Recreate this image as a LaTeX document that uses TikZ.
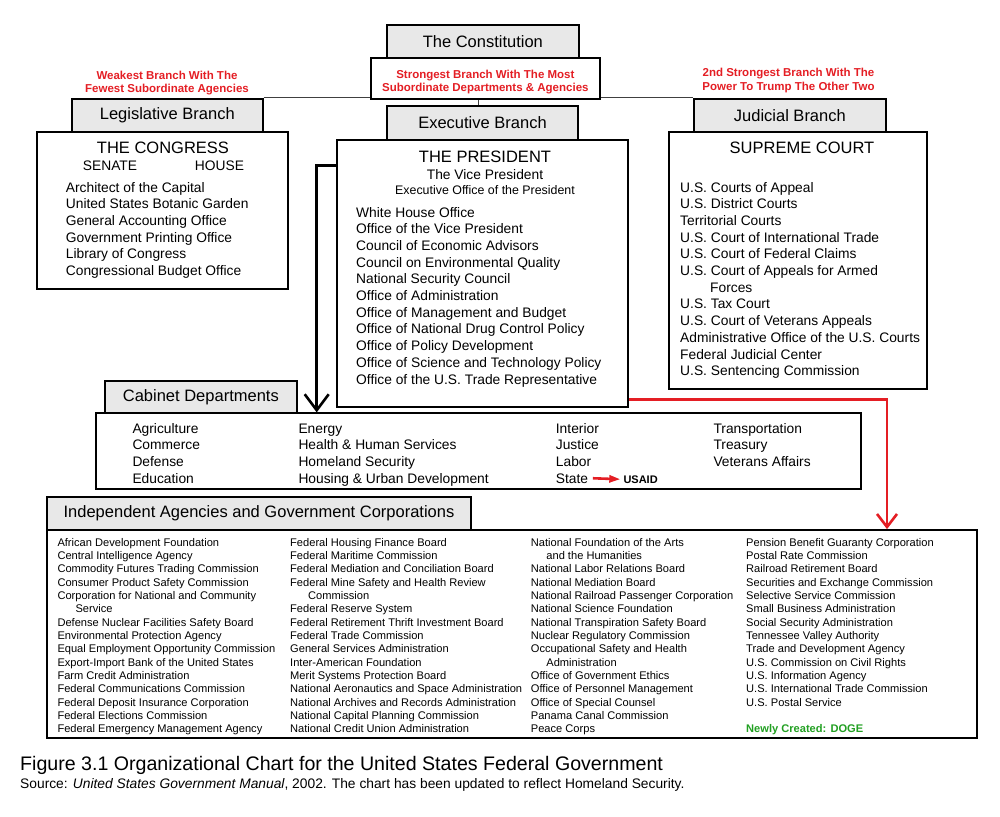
\documentclass[tikz,border=0pt]{standalone}
\usepackage{fontspec}
\setmainfont{Liberation Sans}
\usepackage{tikz}
\usetikzlibrary{arrows.meta}
\definecolor{tabgray}{RGB}{232, 232, 232}
\definecolor{notered}{RGB}{228, 30, 36}
\definecolor{dogegreen}{RGB}{34, 160, 34}

\begin{document}
\begin{tikzpicture}[x=1pt, y=-1pt,
	box/.style={draw, line width=1.8pt, fill=white, inner sep=0pt},
	tab/.style={box, fill=tabgray, font=\fontsize{16.5}{19}\selectfont},
	note/.style={text=notered, align=center, inner sep=0pt, font=\bfseries\fontsize{11.5}{13.3}\selectfont},
	head/.style={anchor=base, inner sep=0pt, font=\fontsize{16.5}{19}\selectfont},
	item/.style={anchor=base west, inner sep=0pt, font=\fontsize{13.8}{16}\selectfont},
	agency/.style={anchor=base west, inner sep=0pt, font=\fontsize{11.1}{13}\selectfont}]
	\useasboundingbox (0,0) rectangle (1000,816);

	% the three branches
	\node[tab, minimum width=191, minimum height=33] (leg) at (167.3,115.2) {Legislative Branch};
	\node[tab, minimum width=191.7, minimum height=33] (jud) at (789.85,115.2) {Judicial Branch};
	\draw[line width=1.3pt, black!75] (leg.north east) -- (jud.north west);
	\node[tab, minimum width=192.3, minimum height=32.7] (const) at (482.85,41.35) {The Constitution};
	\node[box, minimum width=229.3, minimum height=41] (strong) at (485.35,78.2) {};
	\node[tab, minimum width=191.6, minimum height=34] (exec) at (482.5,123) {Executive Branch};
	\draw[line width=1.3pt, black!75] ([xshift=-4.2pt]exec.north) -- ([xshift=-4.2pt]exec.north |- strong.south);

	\node[note] (weaknote) at (167,83.3) {Weakest Branch With The\\Fewest Subordinate Agencies};
	\node[note] (strongnote) at (485.35,82.3) {Strongest Branch With The Most\\Subordinate Departments \& Agencies};
	\node[note] (judnote) at (788.5,80.5) {2nd Strongest Branch With The\\Power To Trump The Other Two};

	\node[box, minimum width=251, minimum height=157.6] (cong) at (162.8,210.5) {};
	\node[box, minimum width=291, minimum height=266.7] (pres) at (482.8,273.35) {};
	\node[box, minimum width=257.4, minimum height=257.6] (sup) at (798,260.5) {};

	\node[head] (congname) at (163,153.3) {THE CONGRESS};
	\node[item, anchor=base] (senate) at (110,170.6) {SENATE};
	\node[item, anchor=base] (house) at (219.5,170.6) {HOUSE};
	\foreach \t [count=\i from 0] in {Architect of the Capital, United States Botanic Garden, General Accounting Office, Government Printing Office, Library of Congress, Congressional Budget Office}
		\node[item] (cong-\i) at (65.7,{192.3+16.67*\i}) {\t};

	\node[head] (presname) at (485,162) {THE PRESIDENT};
	\node[item, anchor=base] (vice) at (485,179.3) {The Vice President};
	\node[item, anchor=base, font=\fontsize{12.4}{15}\selectfont] (eop) at (485,194.5) {Executive Office of the President};
	\foreach \t [count=\i from 0] in {White House Office, Office of the Vice President, Council of Economic Advisors, Council on Environmental Quality, National Security Council, Office of Administration, Office of Management and Budget, Office of National Drug Control Policy, Office of Policy Development, Office of Science and Technology Policy, Office of the U.S. Trade Representative}
		\node[item] (pres-\i) at (356,{217.3+16.67*\i}) {\t};

	\node[head] (supname) at (802,153) {SUPREME COURT};
	\foreach \t [count=\i from 0] in {U.S. Courts of Appeal, U.S. District Courts, Territorial Courts, U.S. Court of International Trade, U.S. Court of Federal Claims, U.S. Court of Appeals for Armed, \hspace*{30pt}Forces, U.S. Tax Court, U.S. Court of Veterans Appeals, Administrative Office of the U.S. Courts, Federal Judicial Center, U.S. Sentencing Commission}
		\node[item] (sup-\i) at (680,{192.3+16.67*\i}) {\t};

	% cabinet
	\node[box, minimum width=765, minimum height=75.7] (cab) at (478.2,451.15) {};
	\node[tab, minimum width=191.7, minimum height=32.6] (cabtab) at (200.85,397) {Cabinet Departments};
	\foreach \t [count=\i from 0] in {Agriculture, Commerce, Defense, Education}
		\node[item] (cab-a\i) at (132.3,{433+16.67*\i}) {\t};
	\foreach \t [count=\i from 0] in {Energy, Health \& Human Services, Homeland Security, Housing \& Urban Development}
		\node[item] (cab-b\i) at (298.3,{433+16.67*\i}) {\t};
	\foreach \t [count=\i from 0] in {Interior, Justice, Labor, State}
		\node[item] (cab-c\i) at (555.7,{433+16.67*\i}) {\t};
	\foreach \t [count=\i from 0] in {Transportation, Treasury, Veterans Affairs}
		\node[item] (cab-d\i) at (713.3,{433+16.67*\i}) {\t};
	\node[anchor=base west, inner sep=0pt, font=\bfseries\fontsize{11}{13}\selectfont] (usaid) at (623.3,483) {USAID};
	\draw[notered, line width=2.6pt, -{Triangle[length=11pt, width=7pt]}] ([xshift=4.5pt]cab-c3.east) -- ([xshift=-3pt]usaid.west);

	% independent agencies
	\node[box, minimum width=929.4, minimum height=208.3] (agen) at (512,634.15) {};
	\node[tab, minimum width=423.4, minimum height=32.7] (agentab) at (259,513.65) {Independent Agencies and Government Corporations};
	\foreach \t [count=\i from 0] in {African Development Foundation, Central Intelligence Agency, Commodity Futures Trading Commission, Consumer Product Safety Commission, Corporation for National and Community, \hspace*{18pt}Service, Defense Nuclear Facilities Safety Board, Environmental Protection Agency, Equal Employment Opportunity Commission, Export-Import Bank of the United States, Farm Credit Administration, Federal Communications Commission, Federal Deposit Insurance Corporation, Federal Elections Commission, Federal Emergency Management Agency}
		\node[agency] (ag-a\i) at (57.3,{546.3+13.33*\i}) {\t};
	\foreach \t [count=\i from 0] in {Federal Housing Finance Board, Federal Maritime Commission, Federal Mediation and Conciliation Board, Federal Mine Safety and Health Review, \hspace*{18pt}Commission, Federal Reserve System, Federal Retirement Thrift Investment Board, Federal Trade Commission, General Services Administration, Inter-American Foundation, Merit Systems Protection Board, National Aeronautics and Space Administration, National Archives and Records Administration, National Capital Planning Commission, National Credit Union Administration}
		\node[agency] (ag-b\i) at (290,{546.3+13.33*\i}) {\t};
	\foreach \t [count=\i from 0] in {National Foundation of the Arts, \hspace*{15.5pt}and the Humanities, National Labor Relations Board, National Mediation Board, National Railroad Passenger Corporation, National Science Foundation, National Transpiration Safety Board, Nuclear Regulatory Commission, Occupational Safety and Health, \hspace*{15.5pt}Administration, Office of Government Ethics, Office of Personnel Management, Office of Special Counsel, Panama Canal Commission, Peace Corps}
		\node[agency] (ag-c\i) at (530.7,{546.3+13.33*\i}) {\t};
	\foreach \t [count=\i from 0] in {Pension Benefit Guaranty Corporation, Postal Rate Commission, Railroad Retirement Board, Securities and Exchange Commission, Selective Service Commission, Small Business Administration, Social Security Administration, Tennessee Valley Authority, Trade and Development Agency, U.S. Commission on Civil Rights, U.S. Information Agency, U.S. International Trade Commission, U.S. Postal Service}
		\node[agency] (ag-d\i) at (746,{546.3+13.33*\i}) {\t};
	\node[agency, text=dogegreen, font=\bfseries\fontsize{11.1}{13}\selectfont] (doge) at (746,{546.3+13.33*14}) {Newly Created: DOGE};

	% arrows
	\coordinate (turn) at (316.7,165.5);
	\draw[line width=2.6pt, -{Straight Barb[length=16pt, width=24pt]}] (turn -| pres.west) -- (turn) -- (turn |- cab.north);
	\coordinate (redturn) at (887,399.3);
	\draw[notered, line width=2.6pt, -{Straight Barb[length=13pt, width=20pt]}] (redturn -| pres.east) -- (redturn) -- (redturn |- agen.north);

	\node[anchor=base west, inner sep=0pt, font=\fontsize{19.6}{22}\selectfont] (caption) at (20,770.7) {Figure 3.1 Organizational Chart for the United States Federal Government};
	\node[anchor=base west, inner sep=0pt, font=\fontsize{13.8}{16}\selectfont] (source) at (20,788) {Source: \textit{United States Government Manual}, 2002. The chart has been updated to reflect Homeland Security.};
\end{tikzpicture}
\end{document}
